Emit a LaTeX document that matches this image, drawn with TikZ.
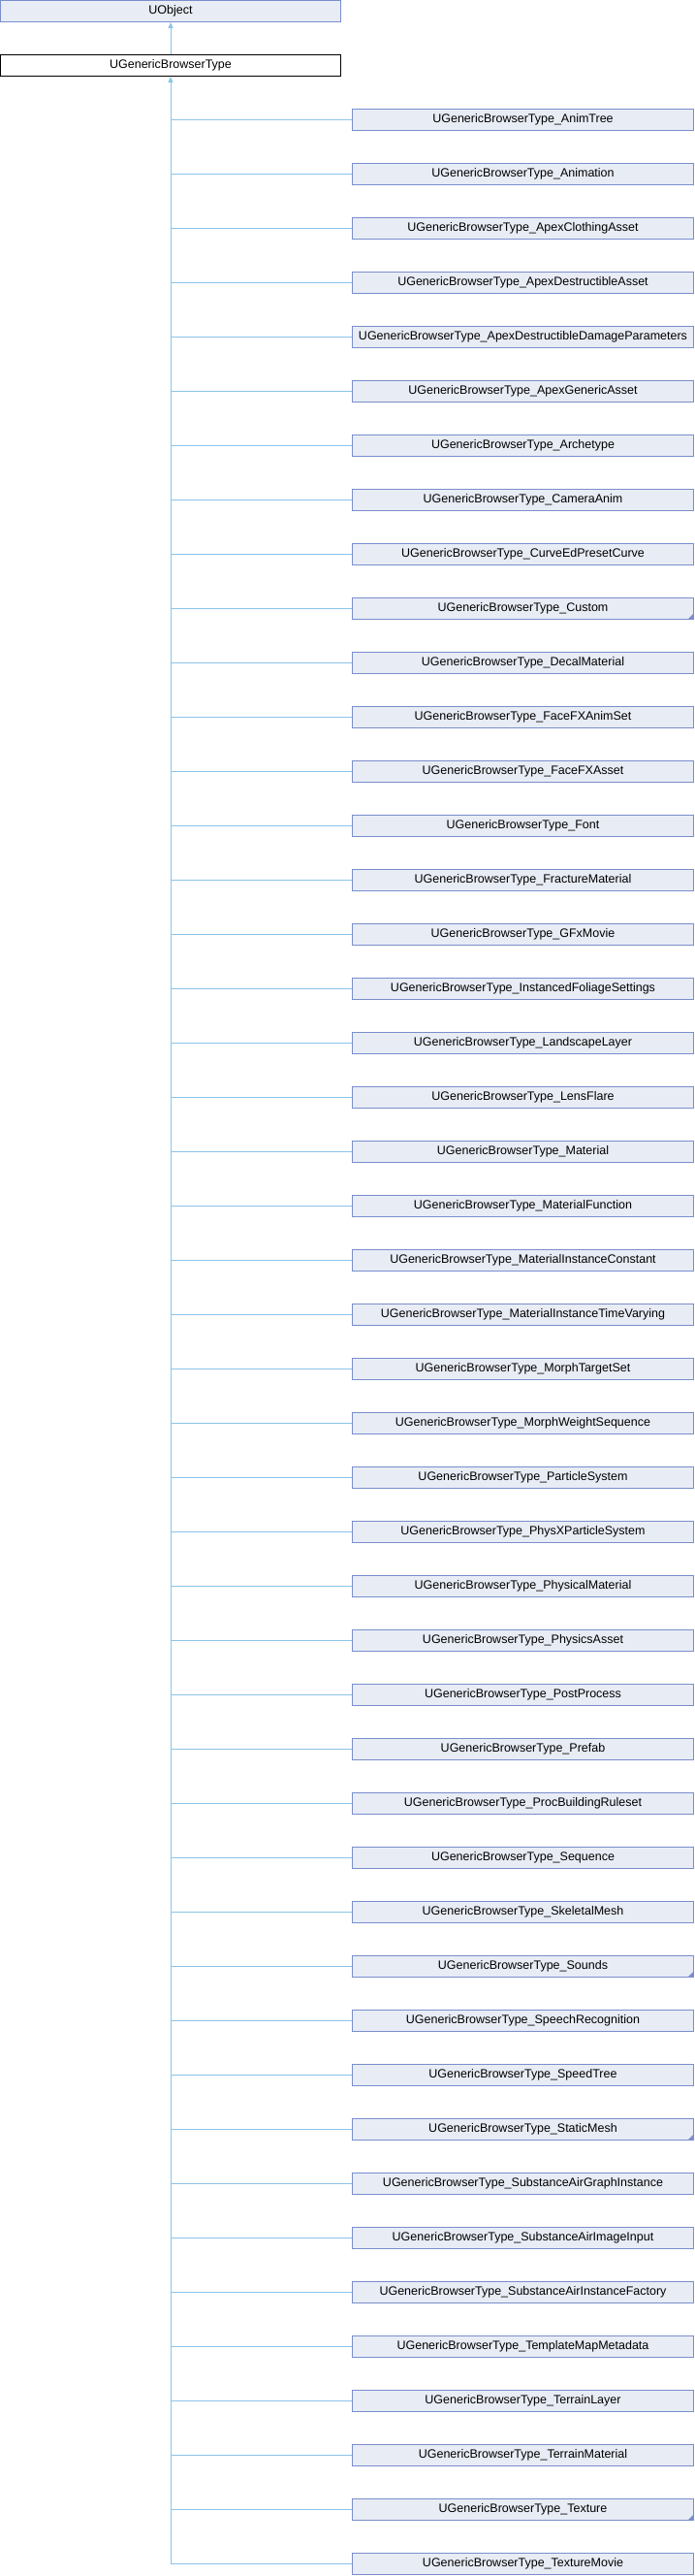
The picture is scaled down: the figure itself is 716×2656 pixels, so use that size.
\documentclass[tikz,border=0pt]{standalone}
\usepackage{fontspec}
\setmainfont{Liberation Sans}
\usetikzlibrary{positioning,calc,arrows.meta}
\definecolor{boxfill}{RGB}{232,236,245}
\definecolor{boxline}{RGB}{122,142,204}
\definecolor{linkcol}{RGB}{140,196,232}
\begin{document}
\begin{tikzpicture}[x=1pt,y=-1pt,line width=1pt,
   cls/.style={draw=boxline,fill=boxfill,inner sep=0pt,minimum height=22pt,
     font=\fontsize{12.5}{14}\selectfont},
   top/.style={cls,minimum width=351pt},
   cur/.style={top,draw=black,fill=white},
   sub/.style={cls,minimum width=352pt},
   more/.style={path picture={\fill[boxline] (path picture bounding box.south east)
     -- ++(-6pt,0pt) -- ++(6pt,6pt) -- cycle;}},
   link/.style={draw=linkcol},
   inh/.style={draw=linkcol,-{Triangle[width=5pt,length=6pt]}}]
   \useasboundingbox (0,0) rectangle (716,2656);
   \node[top] (uobj) at (176,11.5) {UObject};
   \node[cur] (base) at (176,67.5) {UGenericBrowserType};
   \node[sub] (animtree) at (539.5,123.5) {UGenericBrowserType\_AnimTree};
   \node[sub] (animation) at (539.5,179.5) {UGenericBrowserType\_Animation};
   \node[sub] (apexcloth) at (539.5,235.5) {UGenericBrowserType\_ApexClothingAsset};
   \node[sub] (apexdestr) at (539.5,291.5) {UGenericBrowserType\_ApexDestructibleAsset};
   \node[sub] (apexdmg) at (539.5,347.5) {UGenericBrowserType\_ApexDestructibleDamageParameters};
   \node[sub] (apexgen) at (539.5,403.5) {UGenericBrowserType\_ApexGenericAsset};
   \node[sub] (archetype) at (539.5,459.5) {UGenericBrowserType\_Archetype};
   \node[sub] (camanim) at (539.5,515.5) {UGenericBrowserType\_CameraAnim};
   \node[sub] (curveed) at (539.5,571.5) {UGenericBrowserType\_CurveEdPresetCurve};
   \node[sub,more] (custom) at (539.5,627.5) {UGenericBrowserType\_Custom};
   \node[sub] (decal) at (539.5,683.5) {UGenericBrowserType\_DecalMaterial};
   \node[sub] (fxanim) at (539.5,739.5) {UGenericBrowserType\_FaceFXAnimSet};
   \node[sub] (fxasset) at (539.5,795.5) {UGenericBrowserType\_FaceFXAsset};
   \node[sub] (font) at (539.5,851.5) {UGenericBrowserType\_Font};
   \node[sub] (fracture) at (539.5,907.5) {UGenericBrowserType\_FractureMaterial};
   \node[sub] (gfx) at (539.5,963.5) {UGenericBrowserType\_GFxMovie};
   \node[sub] (foliage) at (539.5,1019.5) {UGenericBrowserType\_InstancedFoliageSettings};
   \node[sub] (landscape) at (539.5,1075.5) {UGenericBrowserType\_LandscapeLayer};
   \node[sub] (lensflare) at (539.5,1131.5) {UGenericBrowserType\_LensFlare};
   \node[sub] (material) at (539.5,1187.5) {UGenericBrowserType\_Material};
   \node[sub] (matfunc) at (539.5,1243.5) {UGenericBrowserType\_MaterialFunction};
   \node[sub] (matconst) at (539.5,1299.5) {UGenericBrowserType\_MaterialInstanceConstant};
   \node[sub] (mattime) at (539.5,1355.5) {UGenericBrowserType\_MaterialInstanceTimeVarying};
   \node[sub] (morphset) at (539.5,1411.5) {UGenericBrowserType\_MorphTargetSet};
   \node[sub] (morphseq) at (539.5,1467.5) {UGenericBrowserType\_MorphWeightSequence};
   \node[sub] (particle) at (539.5,1523.5) {UGenericBrowserType\_ParticleSystem};
   \node[sub] (physx) at (539.5,1579.5) {UGenericBrowserType\_PhysXParticleSystem};
   \node[sub] (physmat) at (539.5,1635.5) {UGenericBrowserType\_PhysicalMaterial};
   \node[sub] (physasset) at (539.5,1691.5) {UGenericBrowserType\_PhysicsAsset};
   \node[sub] (postproc) at (539.5,1747.5) {UGenericBrowserType\_PostProcess};
   \node[sub] (prefab) at (539.5,1803.5) {UGenericBrowserType\_Prefab};
   \node[sub] (procbuild) at (539.5,1859.5) {UGenericBrowserType\_ProcBuildingRuleset};
   \node[sub] (sequence) at (539.5,1915.5) {UGenericBrowserType\_Sequence};
   \node[sub] (skelmesh) at (539.5,1971.5) {UGenericBrowserType\_SkeletalMesh};
   \node[sub,more] (sounds) at (539.5,2027.5) {UGenericBrowserType\_Sounds};
   \node[sub] (speech) at (539.5,2083.5) {UGenericBrowserType\_SpeechRecognition};
   \node[sub] (speedtree) at (539.5,2139.5) {UGenericBrowserType\_SpeedTree};
   \node[sub,more] (statmesh) at (539.5,2195.5) {UGenericBrowserType\_StaticMesh};
   \node[sub] (subgraph) at (539.5,2251.5) {UGenericBrowserType\_SubstanceAirGraphInstance};
   \node[sub] (subimage) at (539.5,2307.5) {UGenericBrowserType\_SubstanceAirImageInput};
   \node[sub] (subfact) at (539.5,2363.5) {UGenericBrowserType\_SubstanceAirInstanceFactory};
   \node[sub] (template) at (539.5,2419.5) {UGenericBrowserType\_TemplateMapMetadata};
   \node[sub] (terlayer) at (539.5,2475.5) {UGenericBrowserType\_TerrainLayer};
   \node[sub] (termat) at (539.5,2531.5) {UGenericBrowserType\_TerrainMaterial};
   \node[sub,more] (texture) at (539.5,2587.5) {UGenericBrowserType\_Texture};
   \node[sub] (texmovie) at (539.5,2643.5) {UGenericBrowserType\_TextureMovie};
   \coordinate (trunk) at (texmovie.west -| base.south);
   \path%
     (base) edge [inh] (uobj) %base to UObject
     (trunk) edge [inh] (base.south) %trunk up to base
     (animtree.west) edge [link] (animtree.west -| base.south)
     (animation.west) edge [link] (animation.west -| base.south)
     (apexcloth.west) edge [link] (apexcloth.west -| base.south)
     (apexdestr.west) edge [link] (apexdestr.west -| base.south)
     (apexdmg.west) edge [link] (apexdmg.west -| base.south)
     (apexgen.west) edge [link] (apexgen.west -| base.south)
     (archetype.west) edge [link] (archetype.west -| base.south)
     (camanim.west) edge [link] (camanim.west -| base.south)
     (curveed.west) edge [link] (curveed.west -| base.south)
     (custom.west) edge [link] (custom.west -| base.south)
     (decal.west) edge [link] (decal.west -| base.south)
     (fxanim.west) edge [link] (fxanim.west -| base.south)
     (fxasset.west) edge [link] (fxasset.west -| base.south)
     (font.west) edge [link] (font.west -| base.south)
     (fracture.west) edge [link] (fracture.west -| base.south)
     (gfx.west) edge [link] (gfx.west -| base.south)
     (foliage.west) edge [link] (foliage.west -| base.south)
     (landscape.west) edge [link] (landscape.west -| base.south)
     (lensflare.west) edge [link] (lensflare.west -| base.south)
     (material.west) edge [link] (material.west -| base.south)
     (matfunc.west) edge [link] (matfunc.west -| base.south)
     (matconst.west) edge [link] (matconst.west -| base.south)
     (mattime.west) edge [link] (mattime.west -| base.south)
     (morphset.west) edge [link] (morphset.west -| base.south)
     (morphseq.west) edge [link] (morphseq.west -| base.south)
     (particle.west) edge [link] (particle.west -| base.south)
     (physx.west) edge [link] (physx.west -| base.south)
     (physmat.west) edge [link] (physmat.west -| base.south)
     (physasset.west) edge [link] (physasset.west -| base.south)
     (postproc.west) edge [link] (postproc.west -| base.south)
     (prefab.west) edge [link] (prefab.west -| base.south)
     (procbuild.west) edge [link] (procbuild.west -| base.south)
     (sequence.west) edge [link] (sequence.west -| base.south)
     (skelmesh.west) edge [link] (skelmesh.west -| base.south)
     (sounds.west) edge [link] (sounds.west -| base.south)
     (speech.west) edge [link] (speech.west -| base.south)
     (speedtree.west) edge [link] (speedtree.west -| base.south)
     (statmesh.west) edge [link] (statmesh.west -| base.south)
     (subgraph.west) edge [link] (subgraph.west -| base.south)
     (subimage.west) edge [link] (subimage.west -| base.south)
     (subfact.west) edge [link] (subfact.west -| base.south)
     (template.west) edge [link] (template.west -| base.south)
     (terlayer.west) edge [link] (terlayer.west -| base.south)
     (termat.west) edge [link] (termat.west -| base.south)
     (texture.west) edge [link] (texture.west -| base.south)
     (texmovie.west) edge [link] (trunk); %last one ends the trunk
\end{tikzpicture}
\end{document}
